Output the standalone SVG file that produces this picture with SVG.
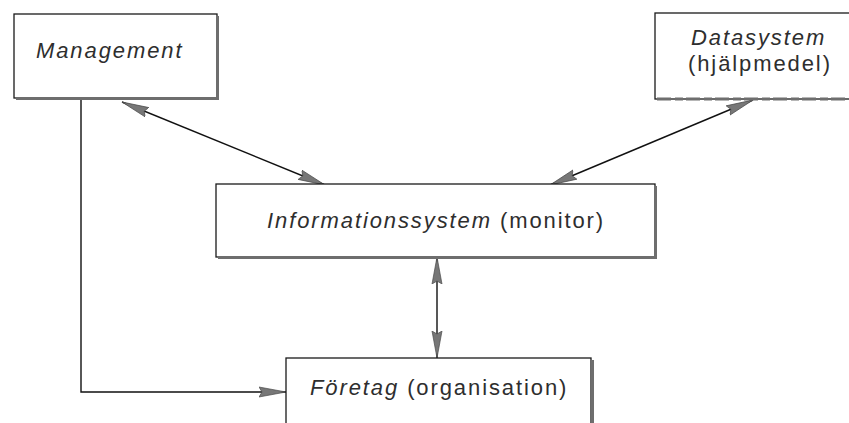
<svg xmlns="http://www.w3.org/2000/svg" width="849" height="423" viewBox="0 0 849 423">
  <style>
    .box { fill: #ffffff; stroke: #1a1a1a; stroke-width: 1.3; }
    .shade { fill: none; stroke: #6e6e6e; stroke-width: 3; }
    .lbl { font-family: "Liberation Sans", Arial, sans-serif; font-size: 22px; fill: #2e2e2e; letter-spacing: 1.9px; }
    .it { font-style: italic; }
    .conn { fill: none; stroke: #111111; stroke-width: 1.4; }
  </style>
  <defs>
    <!-- long, narrow grey arrowhead shared by all connectors -->
    <marker id="head" viewBox="0 0 27 12" refX="27" refY="6" markerWidth="27" markerHeight="12" markerUnits="userSpaceOnUse" orient="auto-start-reverse">
      <path d="M0,1 L27,6 L0,11 L3,6 Z" fill="#777777" stroke="#4a4a4a" stroke-width="0.7" stroke-linejoin="round"/>
    </marker>
  </defs>

  <g id="connectors">
    <path class="conn" d="M81,99 L81,392 L286,392" marker-end="url(#head)"/>
    <path class="conn" d="M122,102 L325,185" marker-start="url(#head)" marker-end="url(#head)"/>
    <path class="conn" d="M753,100 L550,185" marker-start="url(#head)" marker-end="url(#head)"/>
    <path class="conn" d="M437,257 L437,358" marker-start="url(#head)" marker-end="url(#head)"/>
  </g>

  <g id="management">
    <rect class="box" x="14" y="14" width="203" height="84"/>
    <path class="shade" d="M16,98.5 L217.5,98.5 L217.5,16"/>
    <text class="lbl it" x="36" y="58">Management</text>
  </g>

  <g id="datasystem">
    <rect class="box" x="655" y="13" width="200" height="86"/>
    <path class="shade" d="M657,99 L855,99" stroke-dasharray="14 4 8 3"/>
    <text class="lbl it" x="691" y="45">Datasystem</text>
    <text class="lbl" x="688" y="71">(hjälpmedel)</text>
  </g>

  <g id="informationssystem">
    <rect class="box" x="216" y="184" width="439" height="73"/>
    <path class="shade" d="M218,257.5 L655.5,257.5 L655.5,186"/>
    <text class="lbl" x="267" y="228"><tspan class="it">Informationssystem</tspan> (monitor)</text>
  </g>

  <g id="foretag">
    <rect class="box" x="286" y="358" width="305" height="80"/>
    <path class="shade" d="M592.5,360 L592.5,430"/>
    <text class="lbl" x="310" y="395"><tspan class="it">Företag</tspan> (organisation)</text>
  </g>
</svg>
